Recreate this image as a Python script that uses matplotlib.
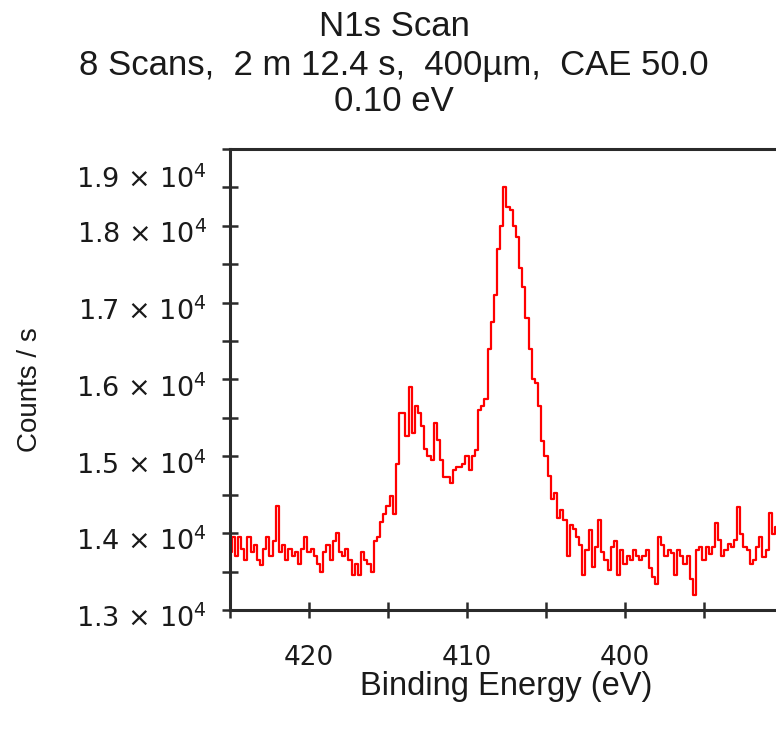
import numpy as np
import matplotlib
matplotlib.use("Agg")
import matplotlib.pyplot as plt
from matplotlib.ticker import MultipleLocator
from matplotlib.transforms import ScaledTranslation

# N1s counts per second, 0.2 eV apart, from 425.0 eV down to 390.4 eV
counts = [
    13750, 13950, 13700, 13950, 13800, 13650, 13950, 13750,
    13850, 13650, 13580, 13800, 13950, 13700, 13900, 14350,
    13750, 13850, 13650, 13800, 13700, 13750, 13600, 13800,
    13950, 13750, 13800, 13700, 13600, 13500, 13750, 13850,
    13650, 13900, 14000, 13750, 13700, 13800, 13650, 13450,
    13600, 13450, 13750, 13650, 13600, 13500, 13900, 13950,
    # 415.4 .. 409.2
    14150, 14250, 14350, 14480, 14250, 14900, 15560, 15560,
    15260, 15900, 15300, 15650, 15560, 15390, 15090, 15000,
    14950, 15430, 15210, 14950, 14730, 14730, 14650, 14820,
    14860, 14860, 14900, 15000, 14820, 15000, 15080, 15600,
    # 409.0 .. 404.2
    15650, 15740, 16400, 16750, 17100, 17700, 18000, 18500,
    18250, 18200, 18000, 17850, 17450, 17200, 16800, 16400,
    16000, 15950, 15650, 15200, 15000, 14750, 14450, 14520,
    14200,
    # 404.0 .. 397.0
    14300, 14170, 13700, 14100, 14050, 13950, 13850, 13450,
    13780, 14040, 13560, 13820, 14170, 13750, 13650, 13520,
    13820, 13900, 13450, 13780, 13600, 13700, 13650, 13780,
    13700, 13650, 13700, 13780, 13550, 13430, 13340, 13950,
    13850, 13700, 13780, 13740,
    # 396.8 .. 390.4
    13450, 13780, 13700, 13600, 13700, 13400, 13190, 13780,
    13820, 13650, 13820, 13730, 13820, 14130, 13910, 13700,
    13780, 13860, 13820, 13910, 14340, 13990, 13820, 13780,
    13600, 13650, 13820, 13950, 13690, 13780, 14260, 13990,
    14080,
]
energy = np.linspace(425.0, 390.4, len(counts))

ytick_vals = [13000, 14000, 15000, 16000, 17000, 18000, 19000]
ytick_text = [r"1.3 × 10$^{4}$", r"1.4 × 10$^{4}$", r"1.5 × 10$^{4}$",
              r"1.6 × 10$^{4}$", r"1.7 × 10$^{4}$", r"1.8 × 10$^{4}$",
              r"1.9 × 10$^{4}$"]
xtick_vals = [420, 410, 400]

title_lines = ["N1s Scan",
               "8 Scans,  2 m 12.4 s,  400µm,  CAE 50.0",
               "0.10 eV"]

plt.rcParams["mathtext.fontset"] = "dejavusans"
W, H = 776, 731
fig = plt.figure(figsize=(W / 100, H / 100), dpi=100)
ax = fig.add_axes([230 / W, (H - 610) / H, 1 - 230 / W, (610 - 149) / H])

ax.plot(energy, counts, color="#ff0000", lw=1.6, drawstyle="steps-mid")

ax.set_xlim(425.0, 390.44)
ax.set_ylim(13000, 19000)
ax.set_xticks(xtick_vals)
ax.xaxis.set_minor_locator(MultipleLocator(5))
ax.set_yticks(ytick_vals)
ax.set_yticklabels(ytick_text)
ax.yaxis.set_minor_locator(MultipleLocator(500))

for side in ["left", "bottom", "top"]:
    ax.spines[side].set_linewidth(2.2)
    ax.spines[side].set_color("#2a2a2a")
ax.spines["right"].set_visible(False)

ax.tick_params(which="both", direction="inout", length=11, width=1.8,
               color="#2a2a2a", top=False, right=False)
ax.tick_params(axis="y", labelsize=19.5, pad=11, labelcolor="#1a1a1a")
ax.tick_params(axis="x", labelsize=19, pad=20, labelcolor="#1a1a1a")

# labels sit a little below their ticks; the top one much lower
labs = ax.get_yticklabels()
for i, lab in enumerate(labs):
    dy = -28 if i == len(labs) - 1 else -6
    lab.set_transform(lab.get_transform()
                      + ScaledTranslation(0, dy / 100, fig.dpi_scale_trans))

tfont = dict(family="Liberation Sans", fontsize=25, color="#1a1a1a", ha="center")
for line, yb in zip(title_lines, [36, 75, 111]):
    fig.text(394 / W, 1 - yb / H, line, va="baseline", **tfont)

fig.text(506 / W, 1 - 687 / H, "Binding Energy (eV)", va="center",
         family="Liberation Sans", fontsize=23.5, color="#1a1a1a", ha="center")
fig.text(30 / W, 1 - 390 / H, "Counts / s", rotation=90, va="center",
         family="Liberation Sans", fontsize=20, color="#1a1a1a", ha="center")

fig.savefig("out.png", dpi=100)
